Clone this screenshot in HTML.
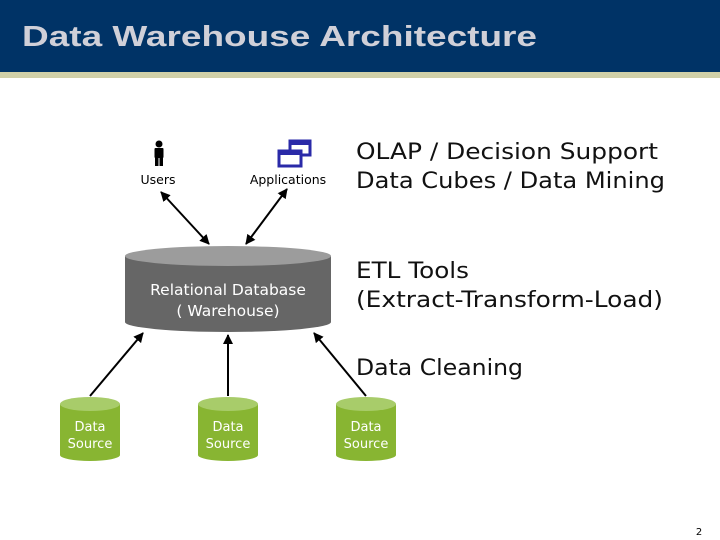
<!DOCTYPE html>
<html><head><meta charset="utf-8"><style>
html,body{margin:0;padding:0;background:#fff;}
svg{display:block;}
</style></head><body>
<svg width="720" height="540" viewBox="0 0 720 540" xmlns="http://www.w3.org/2000/svg">
<defs>
<marker id="ah" viewBox="0 0 10 10" refX="9" refY="5" markerWidth="5" markerHeight="5" orient="auto-start-reverse">
<path d="M0,0 L10,5 L0,10 z" fill="#000"/></marker>
</defs>
<rect x="0" y="0" width="720" height="72" fill="#003366"/>
<rect x="0" y="72" width="720" height="6" fill="#d0d0a8"/>
<text x="22" y="46" font-family="Liberation Sans, sans-serif" font-weight="bold" font-size="29" fill="#d0d0d8" textLength="515" lengthAdjust="spacingAndGlyphs">Data Warehouse Architecture</text>

<!-- user icon -->
<g fill="#000">
<circle cx="159" cy="144" r="3.5"/>
<rect x="154.5" y="148" width="9" height="10" rx="1"/>
<rect x="155" y="157" width="3.5" height="9"/>
<rect x="159.5" y="157" width="3.5" height="9"/>
</g>
<text x="158" y="184" font-family="DejaVu Sans, sans-serif" font-size="12.5" text-anchor="middle">Users</text>
<!-- app icon -->
<rect x="290" y="141" width="20" height="14" fill="#fff" stroke="#2a2aa8" stroke-width="3"/>
<rect x="290" y="141" width="20" height="4" fill="#2a2aa8"/>
<rect x="279" y="151" width="22" height="15" fill="#fff" stroke="#2a2aa8" stroke-width="3"/>
<rect x="279" y="151" width="22" height="4" fill="#2a2aa8"/>
<text x="288" y="184" font-family="DejaVu Sans, sans-serif" font-size="12.5" text-anchor="middle">Applications</text>

<!-- arrows top -->
<line x1="161" y1="192" x2="209" y2="244" stroke="#000" stroke-width="2" marker-start="url(#ah)" marker-end="url(#ah)"/>
<line x1="287" y1="189" x2="246" y2="244" stroke="#000" stroke-width="2" marker-start="url(#ah)" marker-end="url(#ah)"/>

<!-- main cylinder -->
<path d="M125,256 L125,322 A103,10 0 0 0 331,322 L331,256 Z" fill="#666"/>
<ellipse cx="228" cy="256" rx="103" ry="10" fill="#9c9c9c"/>
<text x="228" y="295" font-family="DejaVu Sans, sans-serif" font-size="15.5" fill="#fff" text-anchor="middle">Relational Database</text>
<text x="228" y="316" font-family="DejaVu Sans, sans-serif" font-size="15.5" fill="#fff" text-anchor="middle">( Warehouse)</text>

<!-- bottom arrows -->
<line x1="90" y1="396" x2="143" y2="333" stroke="#000" stroke-width="2" marker-end="url(#ah)"/>
<line x1="228" y1="396" x2="228" y2="335" stroke="#000" stroke-width="2" marker-end="url(#ah)"/>
<line x1="366" y1="396" x2="314" y2="333" stroke="#000" stroke-width="2" marker-end="url(#ah)"/>

<!-- data sources -->
<g font-family="DejaVu Sans, sans-serif" font-size="13" fill="#fff" text-anchor="middle">
<path d="M60,404 L60,455 A30,6 0 0 0 120,455 L120,404 Z" fill="#88b532"/>
<ellipse cx="90" cy="404" rx="30" ry="7" fill="#a8cc6a"/>
<text x="90" y="431">Data</text><text x="90" y="448">Source</text>
<path d="M198,404 L198,455 A30,6 0 0 0 258,455 L258,404 Z" fill="#88b532"/>
<ellipse cx="228" cy="404" rx="30" ry="7" fill="#a8cc6a"/>
<text x="228" y="431">Data</text><text x="228" y="448">Source</text>
<path d="M336,404 L336,455 A30,6 0 0 0 396,455 L396,404 Z" fill="#88b532"/>
<ellipse cx="366" cy="404" rx="30" ry="7" fill="#a8cc6a"/>
<text x="366" y="431">Data</text><text x="366" y="448">Source</text>
</g>

<g font-family="DejaVu Sans, sans-serif" font-size="22" fill="#111">
<text x="356" y="159" textLength="302" lengthAdjust="spacingAndGlyphs">OLAP / Decision  Support</text>
<text x="356" y="188" textLength="309" lengthAdjust="spacingAndGlyphs">Data Cubes / Data Mining</text>
<text x="356" y="278" textLength="113" lengthAdjust="spacingAndGlyphs">ETL Tools</text>
<text x="356" y="307" textLength="307" lengthAdjust="spacingAndGlyphs">(Extract-Transform-Load)</text>
<text x="356" y="375" textLength="167" lengthAdjust="spacingAndGlyphs">Data Cleaning</text>
</g>
<text x="699" y="535" font-family="DejaVu Sans, sans-serif" font-size="10" fill="#000" text-anchor="middle">2</text>
</svg>
</body></html>
